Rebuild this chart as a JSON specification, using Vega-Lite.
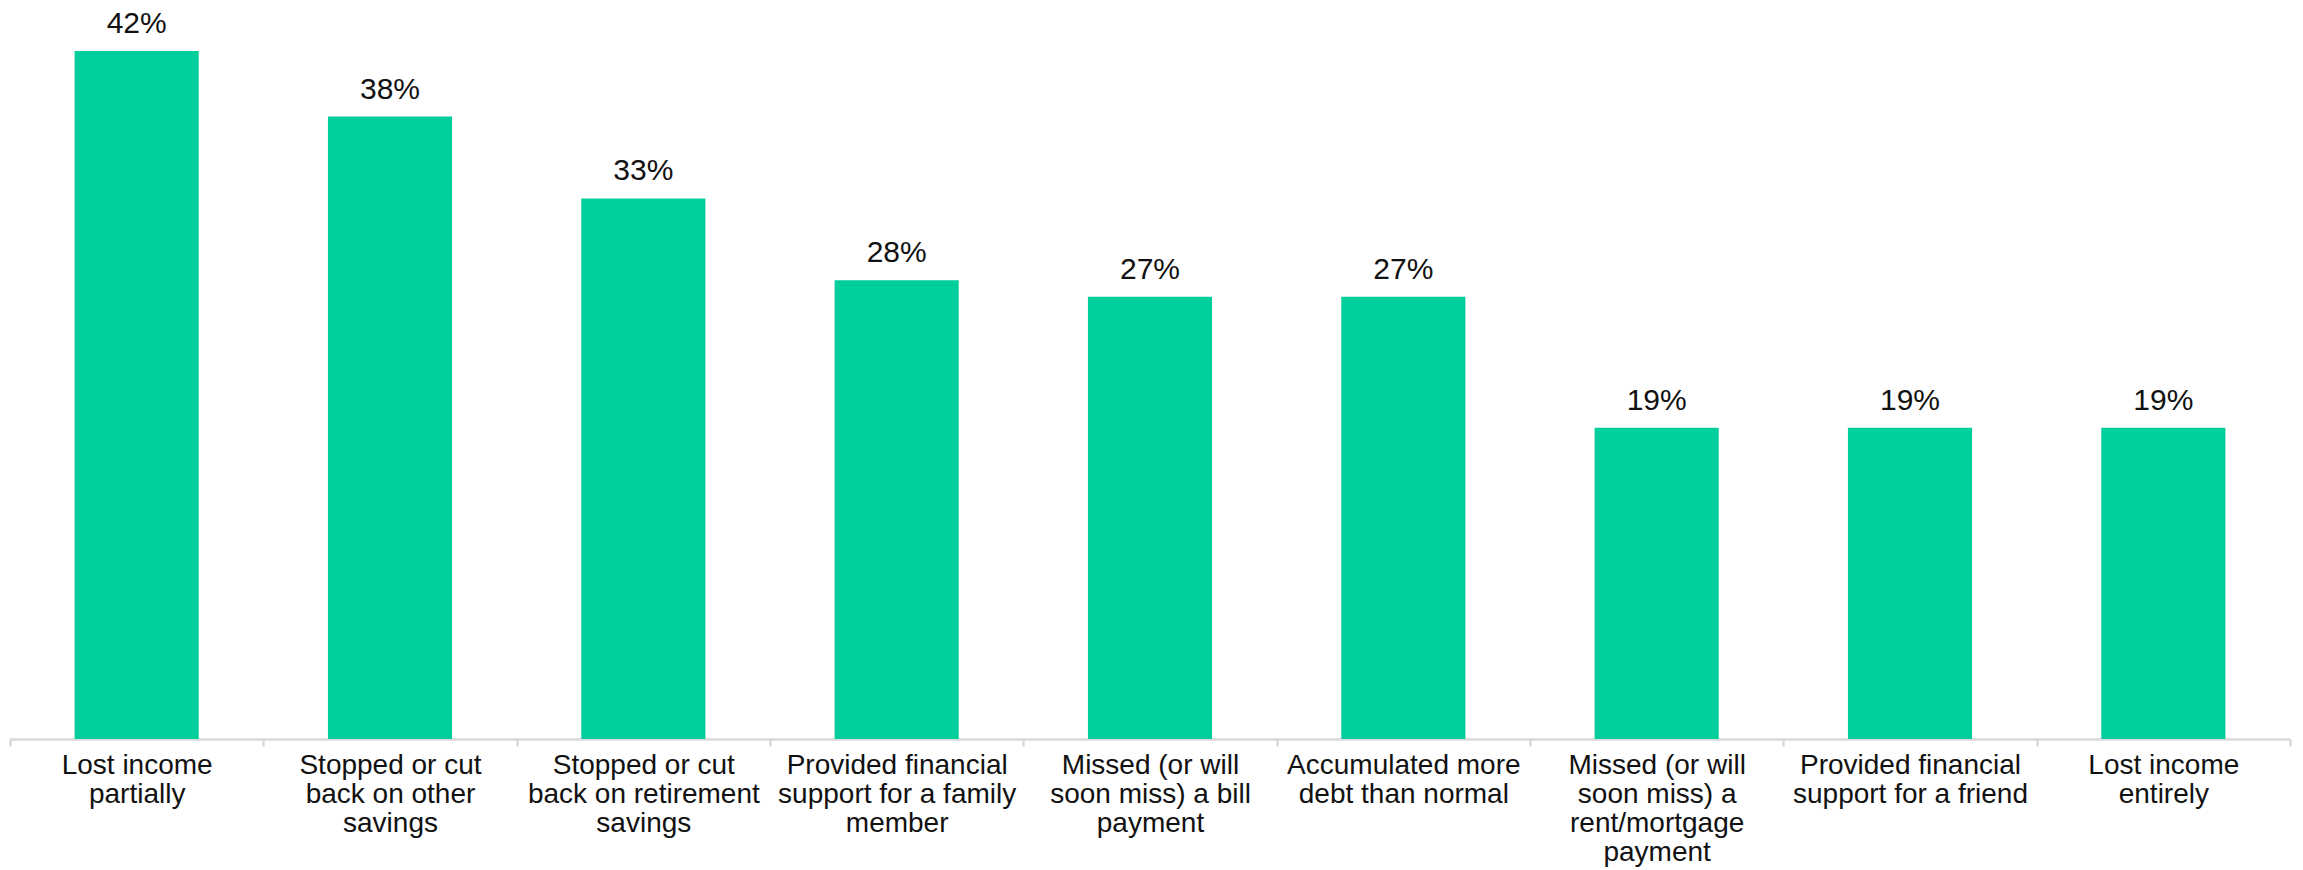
{
  "$schema": "https://vega.github.io/schema/vega-lite/v6.json",
  "autosize": {"type": "none"},
  "width": 2280,
  "height": 688,
  "padding": {"left": 10, "top": 51, "right": 13, "bottom": 131},
  "background": "white",
  "config": {"view": {"stroke": null}, "font": "Liberation Sans"},
  "data": {
    "values": [
      {"action": "Lost income\npartially", "share": 0.42},
      {"action": "Stopped or cut\nback on other\nsavings", "share": 0.38},
      {"action": "Stopped or cut\nback on retirement\nsavings", "share": 0.33},
      {"action": "Provided financial\nsupport for a family\nmember", "share": 0.28},
      {"action": "Missed (or will\nsoon miss) a bill\npayment", "share": 0.27},
      {"action": "Accumulated more\ndebt than normal", "share": 0.27},
      {"action": "Missed (or will\nsoon miss) a\nrent/mortgage\npayment", "share": 0.19},
      {"action": "Provided financial\nsupport for a friend", "share": 0.19},
      {"action": "Lost income\nentirely", "share": 0.19}
    ]
  },
  "encoding": {
    "x": {
      "field": "action",
      "type": "nominal",
      "sort": null,
      "scale": {"paddingInner": 0, "paddingOuter": 0},
      "axis": {
        "title": null,
        "labelAngle": 0,
        "labelExpr": "isValid(datum.value) ? split(datum.value, '\\n') : ''",
        "labelFontSize": 28,
        "labelLineHeight": 29,
        "labelColor": "#111111",
        "labelPadding": 5,
        "labelLimit": 0,
        "labelBaseline": "top",
        "domainColor": "#d9d9d9",
        "domainWidth": 2.5,
        "tickColor": "#d9d9d9",
        "tickWidth": 2.5,
        "tickSize": 7,
        "tickBand": "extent"
      }
    },
    "y": {
      "field": "share",
      "type": "quantitative",
      "scale": {"domain": [0, 0.42], "nice": false, "zero": true},
      "axis": null
    }
  },
  "layer": [
    {
      "mark": {"type": "bar", "color": "#00ce9b", "width": {"band": 0.49}}
    },
    {
      "mark": {"type": "text", "baseline": "alphabetic", "dy": -18, "fontSize": 30, "color": "#111111"},
      "encoding": {"text": {"field": "share", "type": "quantitative", "format": ".0%"}}
    }
  ]
}
